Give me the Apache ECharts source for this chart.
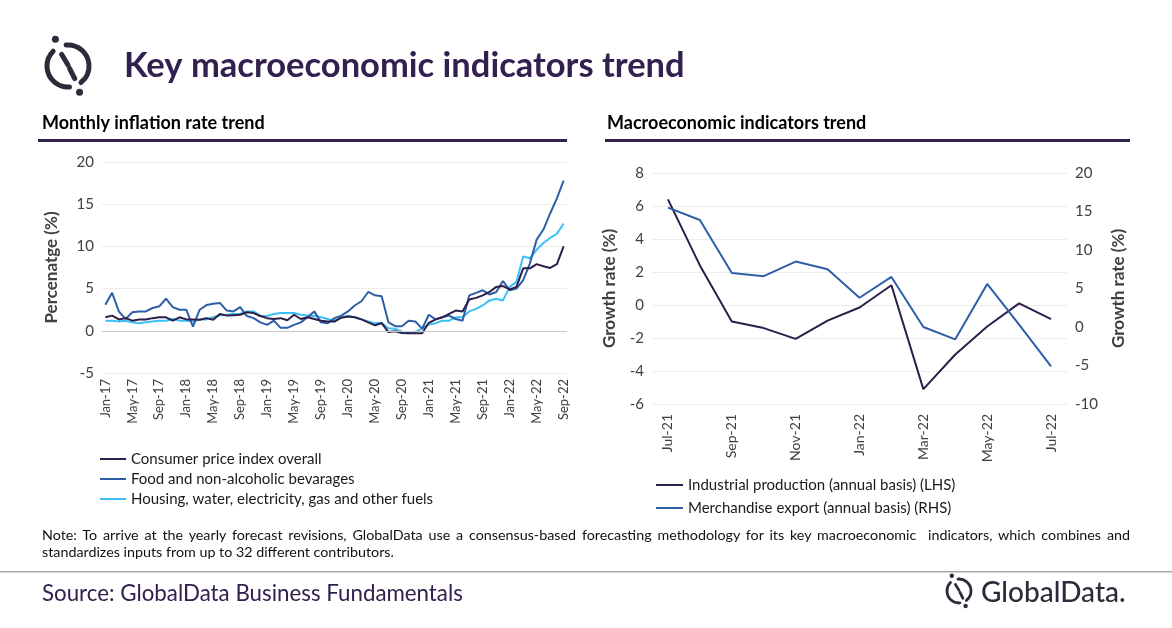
<!DOCTYPE html>
<html>
<head lang="en">
    <meta charset="UTF-8">
    <title>Key macroeconomic indicators trend</title>
    <style>
        html, body { margin: 0; padding: 0; background: #fff; }
        #main { width: 1172px; height: 628px; }
        .note {
            position: absolute;
            left: 42px;
            width: 1088px;
            font-family: Lato, "Open Sans", sans-serif;
            font-size: 14.3px;
            color: #111;
            text-align: justify;
        }
        .l1 { top: 526px; text-align-last: justify; white-space: nowrap; }
        .l2 { top: 543px; }
    </style>
</head>
<body>
<div id="main"></div>
<div class="note l1">Note: To arrive at the yearly forecast revisions, GlobalData use a consensus-based forecasting methodology for its key macroeconomic&nbsp; indicators, which combines and</div>
<div class="note l2">standardizes inputs from up to 32 different contributors.</div>
<script src="https://cdn.jsdelivr.net/npm/echarts@6/dist/echarts.min.js"></script>
<script>
    var FONT = 'Lato, "Open Sans", sans-serif';
    var PURPLE = '#32204e';

    // 月度通胀 - 类目
    var months = ['Jan-17','Feb-17','Mar-17','Apr-17','May-17','Jun-17','Jul-17','Aug-17','Sep-17','Oct-17','Nov-17','Dec-17',
        'Jan-18','Feb-18','Mar-18','Apr-18','May-18','Jun-18','Jul-18','Aug-18','Sep-18','Oct-18','Nov-18','Dec-18',
        'Jan-19','Feb-19','Mar-19','Apr-19','May-19','Jun-19','Jul-19','Aug-19','Sep-19','Oct-19','Nov-19','Dec-19',
        'Jan-20','Feb-20','Mar-20','Apr-20','May-20','Jun-20','Jul-20','Aug-20','Sep-20','Oct-20','Nov-20','Dec-20',
        'Jan-21','Feb-21','Mar-21','Apr-21','May-21','Jun-21','Jul-21','Aug-21','Sep-21','Oct-21','Nov-21','Dec-21',
        'Jan-22','Feb-22','Mar-22','Apr-22','May-22','Jun-22','Jul-22','Aug-22','Sep-22'];

    var cpi = [1.6,1.8,1.35,1.5,1.2,1.35,1.35,1.5,1.6,1.6,1.2,1.6,
        1.35,1.35,1.3,1.5,1.3,2.0,1.8,1.85,1.9,2.2,2.1,1.75,
        1.5,1.4,1.5,1.25,1.9,1.4,1.6,1.4,1.2,1.1,1.1,1.55,
        1.7,1.6,1.35,1.0,0.65,0.9,-0.15,-0.05,-0.25,-0.3,-0.3,-0.3,
        0.95,1.35,1.6,2.0,2.4,2.3,3.7,3.9,4.2,4.6,5.2,5.3,
        4.9,5.2,7.4,7.4,7.9,7.65,7.45,7.9,10.0];

    var food = [3.1,4.5,2.3,1.4,2.2,2.3,2.3,2.7,2.9,3.8,2.8,2.5,
        2.5,0.5,2.5,3.05,3.2,3.3,2.4,2.3,2.8,1.75,1.5,1.0,
        0.7,1.2,0.35,0.35,0.7,1.0,1.6,2.3,1.0,0.9,1.5,1.8,
        2.3,3.0,3.5,4.6,4.2,4.1,1.0,0.55,0.55,1.2,1.1,0.25,
        1.9,1.35,1.6,1.8,1.4,1.2,4.2,4.5,4.8,4.3,4.6,5.9,
        4.8,5.0,6.0,8.0,10.8,12.0,13.9,15.7,17.8];

    var housing = [1.2,1.2,1.1,1.2,1.0,0.9,1.0,1.1,1.2,1.2,1.4,1.2,
        1.2,1.1,1.35,1.35,1.6,1.85,1.9,2.0,2.0,2.3,2.3,1.75,
        1.75,2.0,2.1,2.1,2.1,1.9,1.8,1.75,1.6,1.4,1.2,1.6,
        1.75,1.6,1.35,1.1,0.9,0.95,0.3,0.25,-0.1,-0.25,-0.1,0.25,
        0.75,0.9,1.2,1.2,1.6,1.6,2.3,2.6,3.0,3.6,3.8,3.6,
        5.2,5.8,8.8,8.6,9.6,10.4,11.0,11.5,12.7];

    // 宏观指标 - 类目
    var months2 = ['Jul-21','Aug-21','Sep-21','Oct-21','Nov-21','Dec-21','Jan-22','Feb-22','Mar-22','Apr-22','May-22','Jun-22','Jul-22'];
    var industrial = [6.4,2.4,-1.0,-1.4,-2.05,-0.95,-0.15,1.2,-5.1,-3.0,-1.3,0.1,-0.85];
    var exports = [15.5,13.9,7.0,6.6,8.5,7.5,3.8,6.5,0.0,-1.6,5.6,0.3,-5.1];

    var names = ['Consumer price index overall','Food and non-alcoholic bevarages','Housing, water, electricity, gas and other fuels'];
    var names2 = ['Industrial production (annual basis) (LHS)','Merchandise export (annual basis) (RHS)'];

    var axisText = {color: '#404040', fontFamily: FONT, fontSize: 15};
    var nameText = {color: '#404040', fontFamily: FONT, fontSize: 17, fontWeight: 'bold'};

    function logo(cx, cy, r, w, dot) {
        var d2r = Math.PI / 180;
        var st = {stroke: '#2e2a3a', lineWidth: w, fill: null, lineCap: 'round'};
        return [
            {type: 'arc', shape: {cx: cx, cy: cy, r: r, startAngle: -95 * d2r, endAngle: 52 * d2r}, style: st},
            {type: 'arc', shape: {cx: cx, cy: cy, r: r, startAngle: 86 * d2r, endAngle: 225 * d2r}, style: st},
            {type: 'line', shape: {x1: cx - r * 0.3, y1: cy - r * 0.55, x2: cx, y2: cy - r * 0.05}, style: st},
            {type: 'line', shape: {x1: cx + r * 0.08, y1: cy + r * 0.12, x2: cx + r * 0.32, y2: cy + r * 0.6}, style: st},
            {type: 'circle', shape: {cx: cx - r * 0.6, cy: cy - r * 1.27, r: dot}, style: {fill: '#2e2a3a'}},
            {type: 'circle', shape: {cx: cx + r * 0.55, cy: cy + r * 1.25, r: dot}, style: {fill: '#2e2a3a'}}
        ];
    }

    var myChart = echarts.init(document.getElementById('main'));

    var option = {
        animation: false,
        color: ['#2d1e4a', '#2e5fa6', '#3bbff7'],
        textStyle: {fontFamily: FONT},
        graphic: [].concat(logo(68, 66, 21, 5, 3.5), logo(959, 591, 12, 2.8, 2.2), [
            {type: 'text', style: {text: 'Key macroeconomic indicators trend', x: 124, y: 66, textVerticalAlign: 'middle',
                font: 'bold 34.5px ' + FONT, fill: PURPLE}},
            {type: 'text', style: {text: 'Monthly inflation rate trend', x: 42, y: 123, textVerticalAlign: 'middle',
                font: 'bold 18px ' + FONT, fill: '#000'}},
            {type: 'text', style: {text: 'Macroeconomic indicators trend', x: 607, y: 123, textVerticalAlign: 'middle',
                font: 'bold 18px ' + FONT, fill: '#000'}},
            {type: 'rect', shape: {x: 38, y: 139, width: 529, height: 3}, style: {fill: PURPLE}},
            {type: 'rect', shape: {x: 605, y: 139, width: 525, height: 3}, style: {fill: PURPLE}},
            {type: 'rect', shape: {x: 0, y: 571, width: 1172, height: 1.5}, style: {fill: '#a6a6a6'}},
            {type: 'text', style: {text: 'Source: GlobalData Business Fundamentals', x: 42, y: 594, textVerticalAlign: 'middle',
                font: '22.3px ' + FONT, fill: PURPLE}},
            {type: 'text', style: {text: 'GlobalData.', x: 981, y: 593, textVerticalAlign: 'middle',
                font: '500 28px ' + FONT, fill: '#2e2a3a'}}
        ]),
        legend: [
            {
                data: names, orient: 'vertical', left: 95, top: 446, itemGap: 4,
                icon: 'rect', itemWidth: 26, itemHeight: 2,
                textStyle: {color: '#1a1a1a', fontSize: 15, lineHeight: 16, fontFamily: FONT}
            },
            {
                data: names2, orient: 'vertical', left: 651, top: 472, itemGap: 7,
                icon: 'rect', itemWidth: 27, itemHeight: 2,
                textStyle: {color: '#1a1a1a', fontSize: 15, lineHeight: 16, fontFamily: FONT}
            }
        ],
        grid: [
            {left: 102, top: 162, width: 465, height: 211},
            {left: 652, top: 173, width: 415, height: 231}
        ],
        xAxis: [
            {
                type: 'category', gridIndex: 0, data: months, boundaryGap: true,
                axisLine: {show: false}, axisTick: {show: false},
                axisLabel: {interval: 3, rotate: 90, margin: 6, color: '#404040', fontSize: 13, fontFamily: FONT}
            },
            {
                type: 'category', gridIndex: 1, data: months2, boundaryGap: true,
                axisLine: {show: false}, axisTick: {show: false},
                axisLabel: {interval: 1, rotate: 90, margin: 10, color: '#404040', fontSize: 14, fontFamily: FONT}
            }
        ],
        yAxis: [
            {
                type: 'value', gridIndex: 0, min: -5, max: 20, interval: 5,
                name: 'Percenatge (%)', nameLocation: 'middle', nameGap: 42, nameRotate: 90, nameTextStyle: nameText,
                axisLabel: axisText, axisLine: {show: false}, axisTick: {show: false},
                splitLine: {lineStyle: {color: '#ececec'}}
            },
            {
                type: 'value', gridIndex: 1, min: -6, max: 8, interval: 2,
                name: 'Growth rate (%)', nameLocation: 'middle', nameGap: 34, nameRotate: 90, nameTextStyle: nameText,
                axisLabel: axisText, axisLine: {show: false}, axisTick: {show: false},
                splitLine: {lineStyle: {color: '#ececec'}}
            },
            {
                type: 'value', gridIndex: 1, position: 'right', min: -10, max: 20, interval: 5,
                name: 'Growth rate (%)', nameLocation: 'middle', nameGap: 43, nameRotate: 90, nameTextStyle: nameText,
                axisLabel: axisText, axisLine: {show: false}, axisTick: {show: false},
                splitLine: {show: false}
            }
        ],
        series: [
            {
                name: names[0], type: 'line', xAxisIndex: 0, yAxisIndex: 0, data: cpi,
                showSymbol: false, lineStyle: {width: 2}, z: 4,
                markLine: {
                    silent: true, symbol: 'none', label: {show: false},
                    lineStyle: {color: '#c8c8c8', width: 1.2, type: 'solid'},
                    data: [{yAxis: 0}]
                }
            },
            {name: names[1], type: 'line', xAxisIndex: 0, yAxisIndex: 0, data: food, showSymbol: false, lineStyle: {width: 2}, z: 3},
            {name: names[2], type: 'line', xAxisIndex: 0, yAxisIndex: 0, data: housing, showSymbol: false, lineStyle: {width: 2}, z: 2},
            {name: names2[0], type: 'line', xAxisIndex: 1, yAxisIndex: 1, data: industrial, showSymbol: false,
                itemStyle: {color: '#2d1e4a'}, lineStyle: {width: 2, color: '#2d1e4a'}},
            {name: names2[1], type: 'line', xAxisIndex: 1, yAxisIndex: 2, data: exports, showSymbol: false,
                itemStyle: {color: '#2e5fa6'}, lineStyle: {width: 2, color: '#2e5fa6'}}
        ]
    };

    myChart.setOption(option);
</script>
</body>
</html>
